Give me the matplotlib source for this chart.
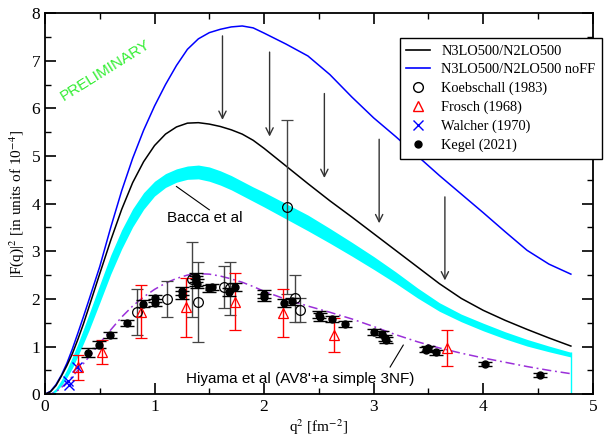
import numpy as np
import matplotlib
matplotlib.use('Agg')
import matplotlib.pyplot as plt
from matplotlib.lines import Line2D
from matplotlib.ticker import MultipleLocator

plt.rcParams['font.family'] = ['Liberation Serif', 'DejaVu Serif']
plt.rcParams['mathtext.fontset'] = 'stix'

# q^2 grid of the theory curves
q2 = [0.0, 0.05, 0.1, 0.15, 0.2, 0.25, 0.3, 0.35, 0.4, 0.5, 0.6, 0.7, 0.8, 0.9,
      1.0, 1.1, 1.2, 1.3, 1.4, 1.5, 1.6, 1.7, 1.8, 1.9, 2.0, 2.2, 2.4, 2.6, 2.8,
      3.0, 3.2, 3.4, 3.6, 3.8, 4.0, 4.2, 4.4, 4.6, 4.8]

# N3LO500/N2LO500 with form factors
n3lo = [0.0, 0.05, 0.18, 0.38, 0.60, 0.85, 1.15, 1.47, 1.82, 2.53, 3.23, 3.88, 4.44, 4.88,
        5.22, 5.46, 5.61, 5.69, 5.70, 5.67, 5.62, 5.55, 5.46, 5.33, 5.16, 4.79, 4.42, 4.06, 3.72,
        3.37, 3.02, 2.67, 2.32, 2.01, 1.76, 1.55, 1.36, 1.18, 1.01]

# same, no form factors
n3lo_noff = [0.0, 0.06, 0.20, 0.40, 0.65, 0.95, 1.28, 1.62, 1.97, 2.68, 3.50, 4.27, 4.95, 5.54,
             6.05, 6.50, 6.90, 7.24, 7.46, 7.59, 7.66, 7.71, 7.73, 7.69, 7.58, 7.35, 7.10, 6.71, 6.24,
             5.80, 5.41, 5.00, 4.59, 4.20, 3.81, 3.41, 3.02, 2.73, 2.52]

# Bacca et al band
bacca_hi = [0.0, 0.02, 0.12, 0.30, 0.52, 0.78, 1.06, 1.36, 1.67, 2.30, 2.92, 3.45, 3.89, 4.23,
            4.47, 4.63, 4.73, 4.79, 4.81, 4.77, 4.69, 4.59, 4.47, 4.35, 4.24, 4.00, 3.76, 3.48, 3.19,
            2.89, 2.57, 2.23, 1.92, 1.68, 1.49, 1.31, 1.15, 1.01, 0.88]
bacca_lo = [0.0, 0.0, 0.05, 0.18, 0.35, 0.55, 0.80, 1.06, 1.33, 1.92, 2.52, 3.05, 3.51, 3.88,
            4.16, 4.34, 4.45, 4.51, 4.52, 4.47, 4.39, 4.29, 4.17, 4.05, 3.93, 3.68, 3.43, 3.17, 2.90,
            2.62, 2.33, 2.02, 1.74, 1.52, 1.33, 1.16, 1.01, 0.89, 0.78]

# Hiyama et al (AV8'+a simple 3NF)
hiyama = [0.0, 0.0, 0.05, 0.14, 0.25, 0.37, 0.50, 0.64, 0.78, 1.07, 1.35, 1.62, 1.85, 2.04,
          2.20, 2.33, 2.43, 2.50, 2.53, 2.52, 2.48, 2.42, 2.35, 2.26, 2.16, 1.99, 1.85, 1.72, 1.58,
          1.42, 1.25, 1.10, 0.97, 0.86, 0.76, 0.67, 0.58, 0.50, 0.43]

# Koebschall (1983)
koeb_x = [0.84, 1.11, 1.34, 1.40, 1.63, 1.69, 2.21, 2.28, 2.33]
koeb_y = [1.73, 2.00, 2.41, 1.94, 2.25, 2.22, 3.93, 2.01, 1.76]
koeb_e = [0.48, 0.38, 0.79, 0.84, 0.45, 0.55, 1.83, 0.50, 0.25]

# Frosch (1968)
frosch_x = [0.30, 0.52, 0.88, 1.29, 1.73, 2.17, 2.64, 3.67]
frosch_y = [0.56, 0.89, 1.73, 1.82, 1.94, 1.71, 1.24, 0.97]
frosch_e = [0.26, 0.25, 0.56, 0.62, 0.60, 0.50, 0.36, 0.38]

# Walcher (1970)
walcher_x = [0.21, 0.22, 0.29]
walcher_y = [0.27, 0.20, 0.57]

# Kegel (2021)
kegel_x = [0.39, 0.49, 0.59, 0.745, 0.89, 1.00, 1.00, 1.25, 1.25, 1.38, 1.38, 1.39, 1.50, 1.52,
           1.68, 1.73, 2.00, 2.00, 2.18, 2.25, 2.50, 2.51, 2.62, 2.74, 3.00, 3.08, 3.10, 3.11,
           3.48, 3.50, 3.57, 4.02, 4.52]
kegel_y = [0.87, 1.04, 1.24, 1.50, 1.90, 2.01, 1.92, 2.17, 2.08, 2.45, 2.38, 2.32, 2.22, 2.25,
           2.14, 2.25, 2.10, 2.03, 1.92, 1.95, 1.67, 1.62, 1.58, 1.47, 1.31, 1.26, 1.18, 1.14,
           0.93, 0.96, 0.88, 0.64, 0.40]
kegel_e = [0.10, 0.07, 0.07, 0.06, 0.08, 0.08, 0.07, 0.08, 0.08, 0.10, 0.10, 0.10, 0.07, 0.07,
           0.08, 0.08, 0.08, 0.08, 0.08, 0.07, 0.08, 0.08, 0.07, 0.06, 0.06, 0.06, 0.06, 0.06,
           0.05, 0.05, 0.05, 0.04, 0.04]

# arrows showing the effect of the form factors
arrow_x = [1.62, 2.05, 2.55, 3.05, 3.65]
arrow_from = [7.58, 7.24, 6.37, 5.41, 4.20]
arrow_to = [5.70, 5.35, 4.48, 3.53, 2.33]

fig = plt.figure(figsize=(6.08, 4.37), dpi=100)
ax = fig.add_axes([0.074, 0.098, 0.901, 0.872])

ax.fill_between(q2, bacca_lo, bacca_hi, color='#00ffff', lw=0)
ax.vlines(q2[-1], 0, bacca_hi[-1], color='#00ffff', lw=1)
ax.plot(q2, n3lo_noff, color='#0000ff', lw=1.1)
ax.plot(q2, n3lo, color='black', lw=1.1)
ax.plot(q2, hiyama, color='#9b30d9', lw=1.1, dashes=[6, 2.5, 1.2, 2.5])

for x, y0, y1 in zip(arrow_x, arrow_from, arrow_to):
    ax.annotate('', xy=(x, y1), xytext=(x, y0),
                arrowprops=dict(arrowstyle='->', color='#333333', lw=1.0,
                                mutation_scale=13))

ax.errorbar(koeb_x, koeb_y, yerr=koeb_e, fmt='o', mfc='none', mec='black', ms=7,
            mew=0.9, ecolor='#444444', elinewidth=1.0, capsize=4, capthick=1.0)
ax.errorbar(frosch_x, frosch_y, yerr=frosch_e, fmt='^', mfc='none', mec='red', ms=7,
            mew=0.9, ecolor='red', elinewidth=1.0, capsize=4, capthick=1.0)
ax.plot(walcher_x, walcher_y, 'x', color='#0000ff', ms=7, mew=1.0)
ax.errorbar(kegel_x, kegel_y, yerr=kegel_e, fmt='o', color='black', ms=5,
            ecolor='black', elinewidth=1.0, capsize=5, capthick=1.0)

ax.set_xlim(0, 5)
ax.set_ylim(0, 8)
ax.xaxis.set_major_locator(MultipleLocator(1))
ax.xaxis.set_minor_locator(MultipleLocator(0.5))
ax.yaxis.set_major_locator(MultipleLocator(1))
ax.yaxis.set_minor_locator(MultipleLocator(0.5))
ax.tick_params(which='both', direction='in', top=True, right=True, labelsize=12.5)
ax.tick_params(which='major', length=8, width=1.2)
ax.tick_params(which='minor', length=4, width=1.0)
for s in ax.spines.values():
    s.set_linewidth(1.3)

ax.set_xlabel(r'q$^2$ [fm$^{-2}$]', fontsize=11, labelpad=2)
ax.set_ylabel(r'|F(q)|$^2$ [in units of 10$^{-4}$]', fontsize=11, labelpad=4)

sans = ['Liberation Sans', 'DejaVu Sans']
ax.text(0.55, 6.8, 'PRELIMINARY', color='#33ee33', rotation=32, fontsize=11,
        family=sans, ha='center', va='center')
ax.text(1.46, 3.70, 'Bacca et al', fontsize=11, family=sans, ha='center', va='center')
ax.plot([1.2, 1.5], [4.36, 3.87], color='black', lw=0.8)
ax.text(2.33, 0.32, "Hiyama et al (AV8'+a simple 3NF)", fontsize=11, family=sans,
        ha='center', va='center')
ax.plot([3.27, 3.15], [1.03, 0.57], color='black', lw=0.8)

handles = [
    Line2D([], [], color='black', lw=1.2),
    Line2D([], [], color='#0000ff', lw=1.2),
    Line2D([], [], ls='none', marker='o', mfc='none', mec='black', ms=7),
    Line2D([], [], ls='none', marker='^', mfc='none', mec='red', ms=7),
    Line2D([], [], ls='none', marker='x', color='#0000ff', ms=7),
    Line2D([], [], ls='none', marker='o', color='black', ms=5),
]
labels = ['N3LO500/N2LO500', 'N3LO500/N2LO500 noFF', 'Koebschall (1983)',
          'Frosch (1968)', 'Walcher (1970)', 'Kegel (2021)']
leg = ax.legend(handles, labels, loc='upper left', bbox_to_anchor=(0.648, 0.934),
                fontsize=10.4, frameon=True, fancybox=False, edgecolor='black',
                framealpha=1, borderpad=0.45, labelspacing=0.38, handlelength=1.6,
                handletextpad=0.8, borderaxespad=0)
leg.get_frame().set_linewidth(1.0)

fig.savefig('out.png', dpi=100)
